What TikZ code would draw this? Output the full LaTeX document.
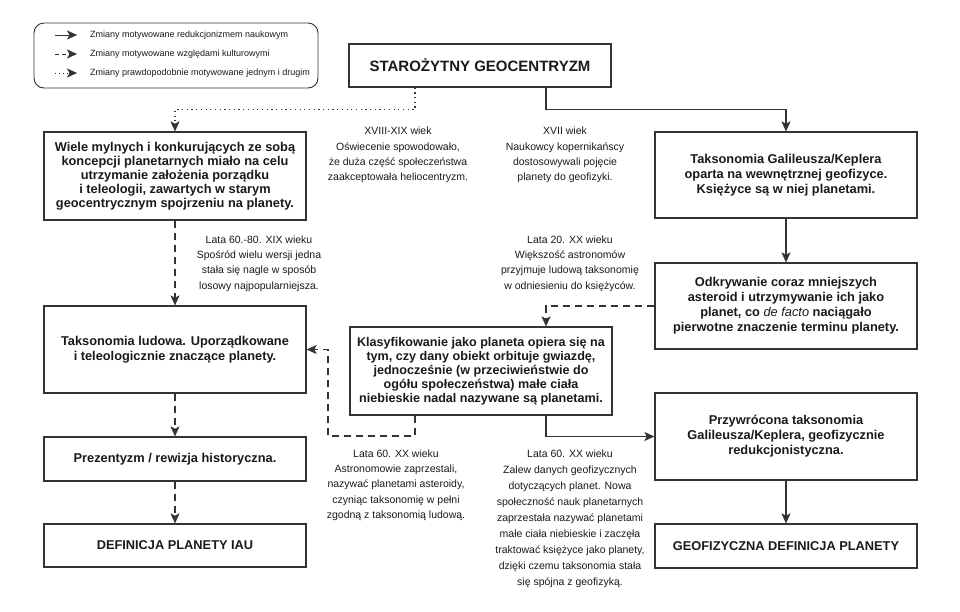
\documentclass[tikz,border=0pt]{standalone}
\usepackage{fontspec}
\setmainfont{Liberation Sans}
\usetikzlibrary{arrows.meta}
\definecolor{ln}{HTML}{333333}
\definecolor{tx}{HTML}{1A1A1A}
\begin{document}
\begin{tikzpicture}[x=1pt,y=-1pt,
 box/.style={draw=ln,line width=1.3pt,rectangle,minimum width=262pt,inner sep=2pt,align=center,
   font=\fontsize{12.8}{15}\selectfont\bfseries,text=tx},
 lbl/.style={align=center,inner sep=0pt,font=\fontsize{10.5}{15.3}\selectfont,text=tx},
 legtxt/.style={anchor=west,inner sep=0pt,font=\fontsize{9}{11}\selectfont,text=tx},
 tip/.tip={Stealth[length=10pt,width=9pt,inset=2.5pt,line width=0.5pt,fill=ln]},
 con/.style={draw=ln,line width=1.2pt,-tip},
 dcon/.style={con,dash pattern=on 7pt off 5pt},
 pcon/.style={con,dash pattern=on 1.2pt off 3.5pt},
]
\useasboundingbox (0,0) rectangle (960,611);
\fill[white] (0,0) rectangle (960,611);

% legend
\node[draw=ln,rounded corners=10pt,line width=0.9pt,minimum width=284pt,minimum height=65pt,inner sep=0pt] (leg) at (176,55.5) {};
\coordinate (a1s) at (55,35); \coordinate (a1e) at (77,35);
\coordinate (a2s) at (55,54); \coordinate (a2e) at (77,54);
\coordinate (a3s) at (55,73); \coordinate (a3e) at (77,73);
\draw[con,line width=1pt] (a1s) -- (a1e);
\draw[con,line width=1pt,dash pattern=on 4pt off 3pt] (a2s) -- (a2e);
\draw[con,line width=1pt,dash pattern=on 1pt off 3pt] (a3s) -- (a3e);
\node[legtxt] (l1) at (90,35) {Zmiany motywowane redukcjonizmem naukowym};
\node[legtxt] (l2) at (90,54) {Zmiany motywowane względami kulturowymi};
\node[legtxt] (l3) at (90,73) {Zmiany prawdopodobnie motywowane jednym i drugim};

% boxes
\node[box,minimum height=43pt,font=\fontsize{15}{17}\selectfont\bfseries] (top) at (480,65.5) {STAROŻYTNY GEOCENTRYZM};
\node[box,minimum height=88pt,font=\fontsize{12.8}{14}\selectfont\bfseries] (L1) at (175,176) {Wiele mylnych i konkurujących ze sobą\\koncepcji planetarnych miało na celu\\utrzymanie założenia porządku\\i teleologii, zawartych w starym\\geocentrycznym spojrzeniu na planety.};
\node[box,minimum height=87pt] (L2) at (175,349.5) {Taksonomia ludowa. Uporządkowane\\i teleologicznie znaczące planety.};
\node[box,minimum height=44pt] (L3) at (175,459) {Prezentyzm / rewizja historyczna.};
\node[box,minimum height=43pt] (L4) at (175,545.5) {DEFINICJA PLANETY IAU};
\node[box,minimum height=86pt] (R1) at (786,175) {Taksonomia Galileusza/Keplera\\oparta na wewnętrznej geofizyce.\\Księżyce są w niej planetami.};
\node[box,minimum height=86pt] (R2) at (786,306) {Odkrywanie coraz mniejszych\\asteroid i utrzymywanie ich jako\\planet, co {\mdseries\itshape de facto} naciągało\\pierwotne znaczenie terminu planety.};
\node[box,minimum height=88pt,font=\fontsize{12.6}{14}\selectfont\bfseries] (M) at (481,371) {Klasyfikowanie jako planeta opiera się na\\tym, czy dany obiekt orbituje gwiazdę,\\jednocześnie (w przeciwieństwie do\\ogółu społeczeństwa) małe ciała\\niebieskie nadal nazywane są planetami.};
\node[box,minimum height=87pt] (R3) at (786,436.5) {Przywrócona taksonomia\\Galileusza/Keplera, geofizycznie\\redukcjonistyczna.};
\node[box,minimum height=44pt] (R4) at (786,546) {GEOFIZYCZNA DEFINICJA PLANETY};

% labels
\node[lbl] (t1) at (398,155) {XVIII-XIX wiek\\Oświecenie spowodowało,\\że duża część społeczeństwa\\zaakceptowała heliocentryzm.};
\node[lbl] (t2) at (565,155) {XVII wiek\\Naukowcy kopernikańscy\\dostosowywali pojęcie\\planety do geofizyki.};
\node[lbl] (t3) at (259,263.5) {Lata 60.-80. XIX wieku\\Spośród wielu wersji jedna\\stała się nagle w sposób\\losowy najpopularniejsza.};
\node[lbl] (t4) at (570,263.5) {Lata 20. XX wieku\\Większość astronomów\\przyjmuje ludową taksonomię\\w odniesieniu do księżyców.};
\node[lbl] (t5) at (396,485) {Lata 60. XX wieku\\Astronomowie zaprzestali,\\nazywać planetami asteroidy,\\czyniąc taksonomię w pełni\\zgodną z taksonomią ludową.};
\node[lbl,font=\fontsize{10.5}{16}\selectfont] (t6) at (570,519) {Lata 60. XX wieku\\Zalew danych geofizycznych\\dotyczących planet. Nowa\\społeczność nauk planetarnych\\zaprzestała nazywać planetami\\małe ciała niebieskie i zaczęła\\traktować księżyce jako planety,\\dzięki czemu taksonomia stała\\się spójna z geofizyką.};

% connectors
\draw[pcon] ([xshift=-65pt]top.south) -- ++(0,22) -| (L1.north);
\draw[con] ([xshift=66pt]top.south) -- ++(0,22) -| (R1.north);
\draw[con] (R1) -- (R2);
\draw[dcon] (R2.west) -| ([xshift=65pt]M.north);
\draw[con] ([xshift=65pt]M.south) |- (R3.west);
\coordinate (cM) at (328,436);
\draw[dcon] ([xshift=-66pt]M.south) |- (cM) |- (L2.east);
\draw[dcon] (L1) -- (L2);
\draw[dcon] (L2) -- (L3);
\draw[dcon] (L3) -- (L4);
\draw[con] (R3) -- (R4);
\end{tikzpicture}
\end{document}
